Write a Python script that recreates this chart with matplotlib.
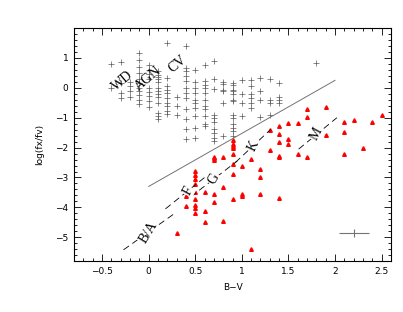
import matplotlib
matplotlib.use('Agg')
import matplotlib.pyplot as plt
from matplotlib.ticker import MultipleLocator
import numpy as np

# fuentes de rayos X (cruces): columnas de B-V con sus log(fx/fv)
cruz_bv = [-0.4, -0.3, -0.2, -0.1, 0.0, 0.1, 0.2, 0.3, 0.4, 0.5, 0.6, 0.7,
           0.8, 0.9, 1.0, 1.1, 1.2, 1.3, 1.4, 1.8]
cruz_fx = [
    [0.8, 0.0],
    [0.85, 0.15, -0.17, -0.35],
    [0.2, 0.05, -0.1, -0.3],
    [1.15, 0.92, 0.7, 0.5, 0.3, 0.15, 0.0, -0.1, -0.25, -0.4, -0.55],
    [0.76, 0.61, 0.45, 0.28, 0.0, -0.13, -0.28, -0.44, -0.64],
    [0.55, 0.42, 0.35, 0.28, 0.2, 0.0, -0.1, -0.2, -0.3, -0.5, -0.85, -0.95, -1.05],
    [1.5, 0.33, 0.07, -0.07, -0.17, -0.33, -0.5, -0.6, -0.77, -0.87],
    [-0.3, -0.6, -0.9],
    [1.39, 0.67, 0.55, 0.4, 0.23, 0.0, -0.17, -0.33, -0.72, -1.05, -1.38, -1.72],
    [0.6, 0.18, 0.0, -0.17, -0.4, -0.5, -0.67, -0.95, -1.33, -1.67],
    [0.78, 0.23, 0.1, 0.0, -0.17, -0.4, -0.6, -0.7, -0.95, -1.2, -1.28],
    [0.91, 0.28, -0.05, -0.9, -1.0, -1.15, -1.38, -1.5, -1.67, -1.78],
    [0.2, 0.12, -0.06, -0.1, -0.5, -1.61],
    [0.17, 0.1, -0.06, -0.1, -0.2, -0.4, -0.45, -0.9, -1.0, -1.2, -1.35, -1.45, -1.6],
    [0.25, -0.2, -0.5, -0.94],
    [0.25, 0.06, -0.2, -0.35, -0.52, -0.67],
    [0.33, -0.1, -0.41, -0.97],
    [0.3, -0.41, -0.5, -0.92],
    [0.17, -0.31, -0.41, -0.52],
    [0.82],
]

# estrellas (triangulos rojos)
tri_bv = [0.3, 0.4, 0.4,
          0.5, 0.5, 0.5, 0.5, 0.5, 0.5, 0.5, 0.5, 0.5,
          0.6, 0.6, 0.6,
          0.7, 0.7, 0.7, 0.7, 0.7,
          0.8, 0.8, 0.8,
          0.9, 0.9, 0.9, 0.9, 0.9, 0.9, 0.9, 0.9,
          1.0, 1.0, 1.0,
          1.1, 1.1,
          1.2, 1.2, 1.2,
          1.3, 1.3,
          1.4, 1.4, 1.4, 1.4, 1.4, 1.4,
          1.5, 1.5, 1.5,
          1.6, 1.6,
          1.7, 1.7, 1.7,
          1.9, 1.9,
          2.1, 2.1, 2.1,
          2.2, 2.3, 2.4, 2.5]
tri_fx = [-4.85, -3.61, -3.95,
          -2.78, -2.91, -3.05, -3.22, -3.5, -3.72, -3.92, -4.02, -4.2,
          -3.5, -4.11, -4.5,
          -2.3, -2.36, -2.42, -3.55, -3.83,
          -2.33, -3.33, -4.44,
          -1.75, -1.89, -1.95, -2.0, -2.2, -2.55, -2.89, -3.72,
          -2.61, -3.55, -3.63,
          -2.37, -5.39,
          -2.7, -3.0, -3.55,
          -1.4, -2.09,
          -1.28, -1.56, -1.8, -2.28, -2.33, -3.7,
          -1.17, -1.72, -1.89,
          -1.18, -2.22,
          -0.72, -0.98, -2.33,
          -0.63, -1.58,
          -1.13, -1.47, -2.2,
          -1.08, -2.03, -1.15, -0.9]

# linea divisoria
div_bv = [0.0, 2.0]
div_fx = [-3.3, 0.25]

# tracks de tipos espectrales: etiqueta, centro, extremos
tipos = ['B/A', 'F', 'G', 'K', 'M']
tipo_bv = [0.0, 0.42, 0.70, 1.12, 1.80]
tipo_fx = [-4.85, -3.44, -3.05, -1.94, -1.55]
tipo_ini = [(-0.27, -5.42), (0.18, -4.05), (0.45, -3.65), (0.93, -2.5), (1.61, -2.05)]
tipo_fin = [(0.28, -4.2), (0.62, -2.95), (0.95, -2.45), (1.31, -1.39), (2.02, -1.0)]

clases = ['WD', 'AGN', 'CV']
clase_bv = [-0.28, 0.0, 0.31]
clase_fx = [0.22, 0.31, 0.8]

err_bv, err_fx = 2.2, -4.85
err_dbv, err_dfx = 0.16, 0.14

fig = plt.figure(figsize=(4.03, 3.12), dpi=100)
ax = fig.add_axes([0.184, 0.163, 0.786, 0.747])

xs = np.concatenate([[b] * len(c) for b, c in zip(cruz_bv, cruz_fx)])
ys = np.concatenate(cruz_fx)
ax.plot(xs, ys, ls='none', marker='+', ms=4.5, mew=0.5, color='0.35')
ax.plot(tri_bv, tri_fx, ls='none', marker='^', ms=2.6, color='red', mec='red')

ax.plot(div_bv, div_fx, color='0.45', lw=0.7)

for et, cx, cy, p0, p1 in zip(tipos, tipo_bv, tipo_fx, tipo_ini, tipo_fin):
    ax.plot([p0[0], p1[0]], [p0[1], p1[1]], color='k', lw=0.6, ls=(0, (8, 5)))
    # angulo en pantalla
    a = ax.transData.transform([p0, p1])
    ang = np.degrees(np.arctan2(a[1][1] - a[0][1], a[1][0] - a[0][0]))
    ax.text(cx, cy, et, rotation=ang, ha='center', va='center', fontsize=10,
            family='Liberation Serif', rotation_mode='anchor',
            bbox=dict(fc='white', ec='none', pad=0.5))

for et, cx, cy in zip(clases, clase_bv, clase_fx):
    ax.text(cx, cy, et, rotation=40, ha='center', va='center', fontsize=10,
            family='Liberation Serif', rotation_mode='anchor')

ax.errorbar([err_bv], [err_fx], xerr=err_dbv, yerr=err_dfx, fmt='none',
            ecolor='0.45', elinewidth=0.8, capsize=0)

ax.set_xlim(-0.8, 2.6)
ax.set_ylim(-5.8, 2.0)
ax.xaxis.set_major_locator(MultipleLocator(0.5))
ax.xaxis.set_minor_locator(MultipleLocator(0.1))
ax.yaxis.set_major_locator(MultipleLocator(1))
ax.yaxis.set_minor_locator(MultipleLocator(0.2))
ax.set_xticks([-0.5, 0, 0.5, 1, 1.5, 2, 2.5])
ax.set_xticklabels(['\u22120.5', '0', '0.5', '1', '1.5', '2', '2.5'])
ax.set_yticks([-5, -4, -3, -2, -1, 0, 1])
ax.set_yticklabels(['\u22125', '\u22124', '\u22123', '\u22122', '\u22121', '0', '1'])
ax.tick_params(which='both', direction='in', top=True, right=True,
               labelsize=6.5, width=0.6)
ax.tick_params(which='major', length=5, pad=4)
ax.tick_params(which='minor', length=2.5)
for s in ax.spines.values():
    s.set_linewidth(0.8)

ax.set_xlabel('B\u2212V', fontsize=6.5, labelpad=5)
ax.set_ylabel('log(fx/fv)', fontsize=6.5, labelpad=8)

fig.savefig('out.png', dpi=100)
plt.close(fig)
